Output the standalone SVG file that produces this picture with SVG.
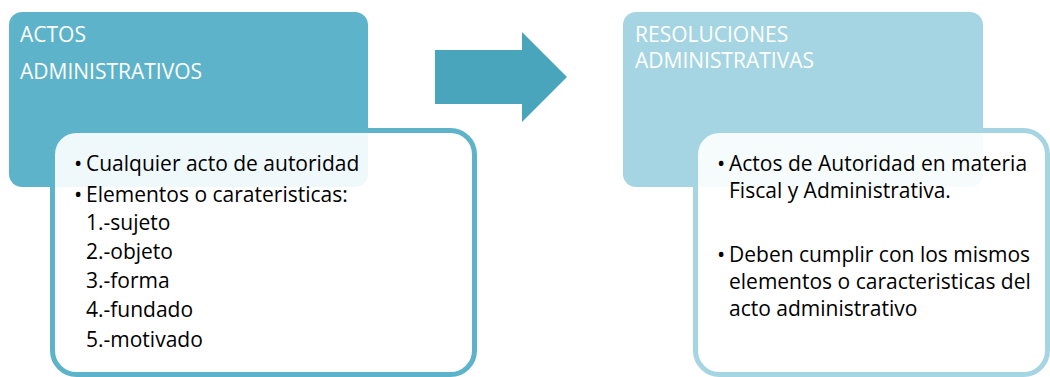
<svg xmlns="http://www.w3.org/2000/svg" width="1050" height="377" viewBox="0 0 1050 377">
<style>
.hdr{font-family:"Open Sans","Liberation Sans",sans-serif;font-size:21px;fill:#ffffff}
.body{font-family:"Open Sans","Liberation Sans",sans-serif;font-size:21px;fill:#000000}
.bul{font-size:22px}
.card{fill:#ffffff;fill-opacity:0.9;stroke-width:5}
</style>
<rect width="1050" height="377" fill="#ffffff"/>
<g id="node-actos">
<rect x="9" y="12" width="359" height="175" rx="13" fill="#5db3ca"/>
<text class="hdr" x="20" y="42">ACTOS</text>
<text class="hdr" x="20" y="79">ADMINISTRATIVOS</text>
</g>
<g id="node-actos-detalle">
<rect class="card" x="52.5" y="130.5" width="422" height="244" rx="24" stroke="#5db3ca"/>
<text class="body"><tspan class="bul" x="74" y="171">•</tspan><tspan x="86" y="171">Cualquier acto de autoridad</tspan></text>
<text class="body"><tspan class="bul" x="74" y="202">•</tspan><tspan x="86" y="202">Elementos o carateristicas:</tspan></text>
<text class="body" x="86" y="230">1.-sujeto</text>
<text class="body" x="86" y="259">2.-objeto</text>
<text class="body" x="86" y="288">3.-forma</text>
<text class="body" x="86" y="317">4.-fundado</text>
<text class="body" x="86" y="347">5.-motivado</text>
</g>
<g id="connectors">
<polygon points="435,50 522,50 522,32 567,77 522,122 522,104 435,104" fill="#48a5bc"/>
</g>
<g id="node-resoluciones">
<rect x="623" y="12" width="360" height="175" rx="13" fill="#a5d5e2"/>
<text class="hdr" x="635" y="42">RESOLUCIONES</text>
<text class="hdr" x="635" y="68">ADMINISTRATIVAS</text>
</g>
<g id="node-resoluciones-detalle">
<rect class="card" x="695.5" y="130.5" width="352" height="244" rx="24" stroke="#a5d5e2"/>
<text class="body"><tspan class="bul" x="717" y="171">•</tspan><tspan x="729" y="171">Actos de Autoridad en materia</tspan></text>
<text class="body" x="729" y="198">Fiscal y Administrativa.</text>
<text class="body"><tspan class="bul" x="717" y="262">•</tspan><tspan x="729" y="262">Deben cumplir con los mismos</tspan></text>
<text class="body" x="729" y="289">elementos o caracteristicas del</text>
<text class="body" x="729" y="316">acto administrativo</text>
</g>
</svg>
